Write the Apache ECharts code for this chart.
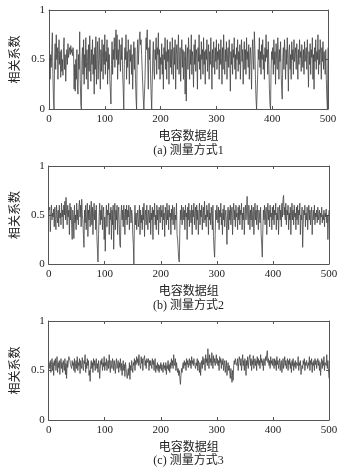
<!DOCTYPE html>
<html>
<head>
<meta charset="utf-8">
<script src="https://cdn.jsdelivr.net/npm/echarts@6/dist/echarts.min.js"></script>
<style>
html, body { margin: 0; padding: 0; background: #fff; }
#chart { width: 345px; height: 470px; }
</style>
</head>
<body>
<div id="chart"></div>
<script>
var xTicks = [0, 100, 200, 300, 400, 500];
var yTicks = [0, 0.5, 1];
var xName = "电容数据组";
var yName = "相关系数";
var captions = ["(a) 测量方式1", "(b) 测量方式2", "(c) 测量方式3"];

// 测量方式1
var mode1 = [
	0.52,0.3,0.55,0.42,0.6,0.77,0.35,0.1,0,0.48,0.66,0.4,0.75,0.5,0.62,0.3,0.55,0.7,0.45,0.58,
	0.32,0.6,0.38,0.5,0.34,0.62,0.72,0.4,0.55,0.28,0.48,0.6,0.45,0.66,0.52,0.58,0.62,0.55,0.64,0.57,
	0.6,0.54,0.62,0.58,0.2,0.45,0.18,0.5,0.3,0.6,0.22,0.15,0.55,0.4,0.78,0.3,0.05,0,0.5,0.62,
	0.35,0.7,0.25,0.55,0.42,0.72,0.3,0.6,0.48,0.2,0.65,0.38,0.74,0.5,0.28,0.6,0.45,0.7,0.35,0.55,
	0.15,0.62,0.4,0.73,0.25,0.55,0.68,0.3,0.5,0.72,0.44,0.2,0.6,0.38,0.7,0.52,0.3,0.65,0.45,0.75,
	0.35,0.58,0.48,0.7,0.25,0.62,0.4,0.55,0.3,0.18,0.05,0.45,0.68,0.35,0.6,0.5,0.72,0.42,0.62,0.8,
	0.5,0.75,0.3,0.6,0.45,0.7,0.55,0.38,0.65,0.5,0.72,0.35,0.2,0,0.45,0.62,0.5,0.75,0.3,0.58,
	0.42,0.7,0.55,0.25,0.6,0.48,0.65,0.35,0.55,0.2,0.5,0.68,0.4,0.62,0.3,0.1,0,0.55,0.7,0.45,
	0.6,0.72,0.78,0.65,0.7,0.55,0.4,0.25,0.1,0,0,0.3,0.55,0.72,0.6,0.8,0.45,0.2,0.62,0.5,
	0.7,0.35,0.15,0,0.25,0.55,0.68,0.4,0.3,0.6,0.5,0.72,0.35,0.62,0.55,0.77,0.4,0.6,0.3,0.52,
	0.45,0.66,0.35,0.55,0.2,0.62,0.5,0.72,0.4,0.58,0.3,0.7,0.48,0.6,0.25,0.55,0.68,0.42,0.6,0.35,
	0.72,0.5,0.3,0.62,0.45,0.7,0.2,0.55,0.65,0.4,0.6,0.75,0.35,0.5,0.62,0.28,0.55,0.7,0.42,0.6,
	0.3,0.58,0.48,0.15,0.65,0.08,0.5,0.62,0.4,0.72,0.55,0.3,0.6,0.45,0.75,0.35,0.58,0.5,0.22,0.65,
	0.45,0.7,0.38,0.6,0.52,0.2,0.62,0.48,0.75,0.4,0.55,0.3,0.68,0.5,0.6,0.35,0.72,0.45,0.58,0.25,
	0.6,0.5,0.7,0.38,0.55,0.65,0.3,0.58,0.45,0.72,0.5,0.2,0.6,0.42,0.68,0.55,0.35,0.62,0.48,0.7,
	0.4,0.58,0.5,0.66,0.3,0.6,0.45,0.7,0.52,0.25,0.62,0.4,0.75,0.5,0.35,0.6,0.48,0.68,0.3,0.55,
	0.62,0.42,0.7,0.5,0.18,0.58,0.45,0.66,0.35,0.6,0.52,0.72,0.4,0.55,0.3,0.62,0.5,0.7,0.38,0.58,
	0.45,0.65,0.3,0.55,0.7,0.48,0.6,0.25,0.52,0.68,0.4,0.6,0.35,0.72,0.5,0.58,0.42,0.65,0.3,0.55,
	0.62,0.45,0.2,0.58,0.7,0.5,0.4,0.78,0.6,0.3,0.1,0,0,0.35,0.6,0.5,0.72,0.42,0.58,0.35,
	0.65,0.5,0.7,0.4,0.55,0.3,0.62,0.48,0.75,0.52,0.6,0.35,0.68,0.45,0.2,0.05,0,0.4,0.58,0.5,
	0.62,0.35,0.7,0.45,0.58,0.25,0.66,0.5,0.4,0.72,0.55,0.3,0.6,0.48,0.68,0.35,0.2,0.1,0.52,0.62,
	0.4,0.7,0.55,0.3,0.6,0.45,0.72,0.5,0.18,0.58,0.65,0.4,0.55,0.3,0.68,0.5,0.6,0.35,0.7,0.48,
	0.55,0.62,0.4,0.66,0.5,0.3,0.6,0.45,0.7,0.52,0.58,0.38,0.65,0.5,0.42,0.6,0.35,0.68,0.48,0.55,
	0.62,0.4,0.7,0.5,0.22,0.58,0.45,0.66,0.35,0.6,0.52,0.72,0.3,0.55,0.2,0.62,0.48,0.7,0.4,0.58,
	0.5,0.75,0.35,0.6,0.45,0.7,0.55,0.3,0.62,0.48,0.68,0.4,0.58,0.5,0.35,0.6,0.3,0.1,0,0.62
];

// 测量方式2
var mode2 = [
	0.55,0.58,0.33,0.5,0.6,0.45,0.52,0.48,0.56,0.38,0.58,0.45,0.35,0.6,0.5,0.42,0.55,0.38,0.6,0.47,
	0.52,0.4,0.62,0.48,0.55,0.36,0.6,0.5,0.64,0.45,0.68,0.52,0.4,0.6,0.48,0.55,0.3,0.62,0.45,0.58,
	0.4,0.25,0.55,0.48,0.26,0.6,0.42,0.5,0.35,0.62,0.45,0.55,0.4,0.58,0.65,0.48,0.6,0.38,0.66,0.5,
	0.45,0.3,0.17,0.55,0.42,0.6,0.35,0.5,0.62,0.28,0.55,0.45,0.6,0.38,0.52,0.64,0.4,0.58,0.3,0.5,
	0.62,0.45,0.55,0.35,0.6,0.28,0.15,0.02,0.3,0.5,0.62,0.4,0.55,0.45,0.6,0.35,0.52,0.58,0.25,0.48,
	0.13,0.45,0.6,0.38,0.55,0.5,0.62,0.3,0.52,0.45,0.58,0.25,0.55,0.4,0.6,0.15,0.48,0.62,0.35,0.55,
	0.45,0.6,0.3,0.52,0.58,0.4,0.2,0.17,0.5,0.6,0.45,0.55,0.38,0.6,0.5,0.3,0.56,0.45,0.6,0.4,
	0.55,0.48,0.6,0.35,0.52,0.58,0.42,0.55,0.5,0.3,0.2,0,0.45,0.6,0.4,0.52,0.35,0.48,0.55,0.38,
	0.45,0.6,0.3,0.55,0.42,0.5,0.35,0.58,0.45,0.62,0.28,0.5,0.55,0.4,0.6,0.48,0.35,0.55,0.5,0.42,
	0.6,0.3,0.52,0.45,0.58,0.25,0.55,0.48,0.62,0.4,0.5,0.35,0.6,0.45,0.55,0.3,0.58,0.5,0.42,0.6,
	0.48,0.55,0.35,0.6,0.45,0.52,0.28,0.58,0.5,0.4,0.62,0.45,0.55,0.35,0.6,0.48,0.52,0.3,0.56,0.45,
	0.6,0.4,0.52,0.58,0.35,0.5,0.45,0.62,0.3,0.25,0.15,0.05,0.02,0.35,0.55,0.45,0.6,0.4,0.52,0.58,
	0.45,0.55,0.35,0.6,0.48,0.52,0.25,0.58,0.45,0.62,0.38,0.55,0.5,0.42,0.6,0.3,0.55,0.48,0.62,0.4,
	0.52,0.58,0.35,0.6,0.45,0.55,0.3,0.5,0.62,0.4,0.55,0.48,0.6,0.35,0.52,0.58,0.42,0.64,0.45,0.5,
	0.38,0.6,0.48,0.55,0.3,0.62,0.45,0.52,0.4,0.58,0.5,0.35,0.6,0.28,0.15,0.07,0.3,0.55,0.45,0.6,
	0.5,0.42,0.58,0.35,0.55,0.48,0.62,0.4,0.52,0.3,0.56,0.45,0.6,0.38,0.5,0.55,0.42,0.2,0.48,0.58,
	0.35,0.55,0.45,0.6,0.4,0.52,0.58,0.3,0.5,0.62,0.45,0.55,0.38,0.6,0.48,0.52,0.35,0.58,0.45,0.6,
	0.4,0.55,0.5,0.62,0.35,0.52,0.45,0.58,0.3,0.5,0.6,0.45,0.55,0.69,0.48,0.4,0.6,0.52,0.35,0.55,
	0.45,0.6,0.38,0.52,0.58,0.3,0.5,0.62,0.45,0.55,0.4,0.6,0.48,0.35,0.55,0.5,0.42,0.58,0.3,0.2,
	0.07,0.35,0.55,0.45,0.6,0.4,0.52,0.58,0.3,0.5,0.62,0.45,0.55,0.38,0.6,0.48,0.52,0.35,0.58,0.45,
	0.6,0.4,0.55,0.5,0.62,0.35,0.52,0.45,0.58,0.3,0.5,0.6,0.45,0.55,0.38,0.62,0.48,0.66,0.7,0.5,
	0.58,0.45,0.62,0.4,0.55,0.5,0.6,0.35,0.52,0.45,0.58,0.3,0.5,0.62,0.45,0.55,0.4,0.6,0.48,0.52,
	0.35,0.58,0.45,0.6,0.4,0.55,0.5,0.62,0.3,0.5,0.45,0.58,0.17,0.4,0.55,0.5,0.6,0.38,0.52,0.45,
	0.58,0.35,0.5,0.6,0.45,0.55,0.4,0.52,0.58,0.3,0.48,0.55,0.45,0.6,0.4,0.52,0.48,0.55,0.42,0.58,
	0.45,0.5,0.55,0.4,0.52,0.48,0.58,0.42,0.5,0.45,0.55,0.38,0.52,0.48,0.56,0.42,0.5,0.25,0.45,0.55
];

// 测量方式3
var mode3 = [
	0.58,0.52,0.6,0.48,0.56,0.62,0.5,0.58,0.45,0.6,0.55,0.62,0.5,0.57,0.64,0.48,0.58,0.53,0.6,0.46,
	0.56,0.62,0.52,0.58,0.48,0.6,0.55,0.5,0.62,0.46,0.57,0.42,0.6,0.53,0.58,0.64,0.62,0.6,0.56,0.58,
	0.52,0.6,0.55,0.58,0.5,0.62,0.48,0.57,0.6,0.52,0.64,0.5,0.58,0.55,0.62,0.47,0.6,0.56,0.52,0.63,
	0.55,0.5,0.6,0.57,0.66,0.48,0.58,0.52,0.62,0.55,0.6,0.45,0.5,0.39,0.55,0.6,0.52,0.58,0.48,0.62,
	0.55,0.6,0.5,0.58,0.62,0.52,0.57,0.48,0.6,0.55,0.42,0.52,0.6,0.56,0.62,0.5,0.58,0.54,0.64,0.5,
	0.58,0.55,0.62,0.5,0.57,0.6,0.52,0.66,0.55,0.48,0.6,0.56,0.52,0.62,0.58,0.5,0.6,0.55,0.47,0.58,
	0.62,0.52,0.56,0.6,0.48,0.58,0.53,0.62,0.5,0.57,0.45,0.55,0.6,0.5,0.56,0.44,0.58,0.52,0.48,0.42,
	0.4,0.52,0.45,0.58,0.41,0.55,0.5,0.6,0.53,0.48,0.58,0.55,0.62,0.5,0.6,0.56,0.64,0.58,0.62,0.55,
	0.66,0.58,0.6,0.52,0.64,0.57,0.62,0.5,0.6,0.58,0.65,0.55,0.6,0.52,0.62,0.58,0.56,0.62,0.5,0.6,
	0.55,0.6,0.58,0.52,0.62,0.56,0.6,0.5,0.58,0.62,0.48,0.55,0.52,0.58,0.5,0.56,0.48,0.55,0.52,0.58,
	0.5,0.56,0.53,0.48,0.58,0.52,0.55,0.5,0.58,0.46,0.55,0.52,0.6,0.5,0.56,0.48,0.58,0.52,0.62,0.55,
	0.6,0.52,0.66,0.58,0.55,0.62,0.5,0.58,0.53,0.48,0.52,0.45,0.5,0.42,0.36,0.45,0.52,0.48,0.55,0.58,
	0.52,0.6,0.55,0.58,0.5,0.62,0.56,0.6,0.53,0.58,0.62,0.55,0.6,0.52,0.64,0.57,0.6,0.55,0.62,0.58,
	0.6,0.52,0.58,0.55,0.62,0.5,0.6,0.56,0.48,0.58,0.45,0.55,0.6,0.52,0.64,0.56,0.62,0.58,0.5,0.66,
	0.58,0.62,0.55,0.72,0.6,0.52,0.66,0.58,0.62,0.55,0.68,0.6,0.52,0.65,0.58,0.62,0.55,0.6,0.66,0.57,
	0.62,0.55,0.6,0.5,0.64,0.58,0.62,0.52,0.6,0.56,0.62,0.5,0.57,0.6,0.48,0.55,0.6,0.45,0.52,0.58,
	0.5,0.55,0.48,0.42,0.52,0.45,0.38,0.5,0.4,0.55,0.6,0.56,0.62,0.58,0.6,0.55,0.62,0.5,0.58,0.64,
	0.6,0.55,0.62,0.5,0.58,0.66,0.55,0.6,0.5,0.62,0.57,0.45,0.6,0.55,0.64,0.52,0.6,0.58,0.66,0.55,
	0.62,0.5,0.6,0.56,0.65,0.52,0.58,0.62,0.55,0.6,0.5,0.64,0.57,0.62,0.55,0.6,0.52,0.66,0.58,0.62,
	0.55,0.6,0.5,0.62,0.58,0.55,0.64,0.6,0.66,0.7,0.58,0.62,0.55,0.6,0.52,0.64,0.57,0.6,0.55,0.62,
	0.58,0.52,0.62,0.55,0.6,0.5,0.64,0.56,0.6,0.52,0.58,0.62,0.5,0.57,0.6,0.48,0.55,0.62,0.52,0.58,
	0.64,0.55,0.6,0.52,0.58,0.62,0.5,0.6,0.56,0.62,0.52,0.58,0.48,0.6,0.55,0.62,0.5,0.58,0.54,0.6,
	0.52,0.58,0.6,0.55,0.64,0.5,0.58,0.55,0.6,0.46,0.44,0.55,0.52,0.6,0.56,0.62,0.5,0.58,0.55,0.6,
	0.62,0.52,0.58,0.55,0.64,0.5,0.6,0.56,0.62,0.48,0.58,0.55,0.6,0.5,0.62,0.56,0.6,0.52,0.58,0.62,
	0.55,0.6,0.5,0.58,0.45,0.56,0.62,0.52,0.6,0.55,0.64,0.5,0.58,0.6,0.55,0.66,0.52,0.6,0.58,0.42
];

var allModes = [mode1, mode2, mode3];

var chart = echarts.init(document.getElementById("chart"), null, { renderer: "canvas" });

var serifFont = "'Liberation Serif', 'Times New Roman', serif";
var cjkFont = "'Noto Sans CJK SC', sans-serif";
var axisColor = "#555";

// 每个子图的位置
var panels = [
	{ left: 49, top: 10, width: 279, height: 99, captionTop: 145 },
	{ left: 48, top: 166, width: 281, height: 98, captionTop: 300 },
	{ left: 48, top: 321, width: 281, height: 99, captionTop: 455 }
];

var grids = [];
var xAxes = [];
var yAxes = [];
var series = [];
var titles = [];

panels.forEach(function (p, i) {
	grids.push({ left: p.left, top: p.top, width: p.width, height: p.height, containLabel: false });

	// bottom axis
	xAxes.push({
		type: "value",
		gridIndex: i,
		min: xTicks[0],
		max: xTicks[xTicks.length - 1],
		interval: 100,
		name: xName,
		nameLocation: "middle",
		nameGap: 20,
		nameTextStyle: { fontFamily: cjkFont, fontSize: 12, color: "#222" },
		axisLine: { show: true, onZero: false, lineStyle: { color: axisColor, width: 1 } },
		axisTick: { show: true, inside: true, length: 3, lineStyle: { color: axisColor } },
		axisLabel: { fontFamily: serifFont, fontSize: 11, color: "#222", margin: 5 },
		splitLine: { show: false }
	});
	// top axis (frame)
	xAxes.push({
		type: "value",
		gridIndex: i,
		position: "top",
		min: xTicks[0],
		max: xTicks[xTicks.length - 1],
		interval: 100,
		axisLine: { show: true, onZero: false, lineStyle: { color: axisColor, width: 1 } },
		axisTick: { show: true, inside: true, length: 3, lineStyle: { color: axisColor } },
		axisLabel: { show: false },
		splitLine: { show: false }
	});
	// left axis
	yAxes.push({
		type: "value",
		gridIndex: i,
		min: yTicks[0],
		max: yTicks[yTicks.length - 1],
		interval: 0.5,
		name: yName,
		nameLocation: "middle",
		nameGap: 25,
		nameRotate: 90,
		nameTextStyle: { fontFamily: cjkFont, fontSize: 12, color: "#222" },
		axisLine: { show: true, onZero: false, lineStyle: { color: axisColor, width: 1 } },
		axisTick: { show: true, inside: true, length: 3, lineStyle: { color: axisColor } },
		axisLabel: { fontFamily: serifFont, fontSize: 11, color: "#222", margin: 4 },
		splitLine: { show: false }
	});
	// right axis (frame)
	yAxes.push({
		type: "value",
		gridIndex: i,
		position: "right",
		min: yTicks[0],
		max: yTicks[yTicks.length - 1],
		interval: 0.5,
		axisLine: { show: true, onZero: false, lineStyle: { color: axisColor, width: 1 } },
		axisTick: { show: true, inside: true, length: 3, lineStyle: { color: axisColor } },
		axisLabel: { show: false },
		splitLine: { show: false }
	});

	series.push({
		type: "line",
		xAxisIndex: i * 2,
		yAxisIndex: i * 2,
		data: allModes[i].map(function (v, k) { return [k + 1, v]; }),
		showSymbol: false,
		symbol: "none",
		animation: false,
		lineStyle: { color: "#444", width: 0.8 }
	});

	titles.push({
		text: captions[i],
		left: p.left + p.width / 2,
		top: p.captionTop,
		padding: 0,
		textAlign: "center",
		textStyle: { fontFamily: serifFont + ", " + cjkFont, fontSize: 12, fontWeight: "normal", color: "#222" }
	});
});

chart.setOption({
	backgroundColor: "#fff",
	animation: false,
	title: titles,
	grid: grids,
	xAxis: xAxes,
	yAxis: yAxes,
	series: series
});
</script>
</body>
</html>
